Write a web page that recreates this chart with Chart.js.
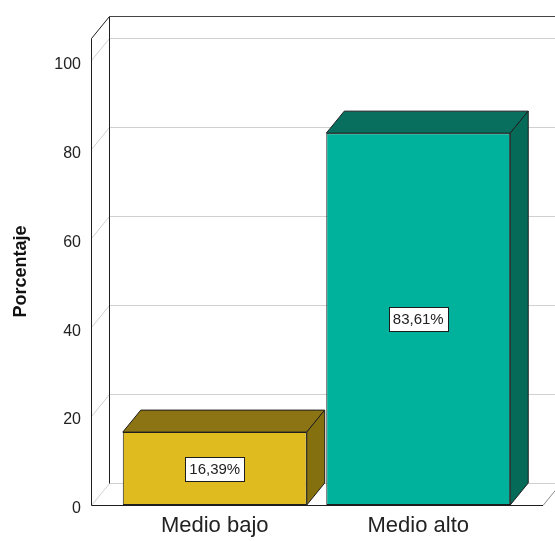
<!DOCTYPE html>
<html>
<head>
<meta charset="utf-8">
<script src="https://cdn.jsdelivr.net/npm/chart.js@4.4.1/dist/chart.umd.min.js"></script>
<style>
  html, body { margin: 0; padding: 0; background: #fff; }
  #wrap { width: 555px; height: 541px; }
</style>
</head>
<body>
<div id="wrap"><canvas id="chart" width="555" height="541"></canvas></div>
<script>
// Values
const categories = ['Medio bajo', 'Medio alto'];
const percentages = [16.39, 83.61];
const valueLabels = ['16,39%', '83,61%'];
const yTicks = [0, 20, 40, 60, 80, 100];
const yTitle = 'Porcentaje';

// Look of the SPSS style 3D chart
const FONT = "'Liberation Sans', Arial, sans-serif";
const frontColors = ['#e0bb1f', '#00b29b'];
const topColors = ['#8c7414', '#086e5e'];
const sideColors = ['#85700f', '#066a59'];
const EDGE = '#1e1e1e';
const GRID = '#d0d0d0';
const DX = 18, DY = 22; // depth of the box

function line(ctx, x1, y1, x2, y2, color) {
    ctx.beginPath();
    ctx.strokeStyle = color;
    ctx.lineWidth = 1;
    ctx.moveTo(x1, y1);
    ctx.lineTo(x2, y2);
    ctx.stroke();
}

function poly(ctx, pts, fill) {
    ctx.beginPath();
    ctx.moveTo(pts[0][0], pts[0][1]);
    pts.slice(1).forEach(p => ctx.lineTo(p[0], p[1]));
    ctx.closePath();
    ctx.fillStyle = fill;
    ctx.fill();
    ctx.strokeStyle = EDGE;
    ctx.lineWidth = 1;
    ctx.stroke();
}

// walls, floor and grid of the 3D box
const frame3d = {
    id: 'frame3d',
    beforeDatasetsDraw(chart) {
        const { ctx, chartArea, scales: { y } } = chart;
        const fx = chartArea.left - 22 + 0.5;
        const bx = fx + DX;
        const rx = chartArea.right + 23;
        const W = chart.width;
        const y0 = Math.round(y.getPixelForValue(0)) + 0.5;
        const top = Math.round(y.getPixelForValue(y.max)) + 0.5;
        ctx.save();
        yTicks.forEach(v => {
            const py = Math.round(y.getPixelForValue(v)) + 0.5;
            line(ctx, fx, py, bx, py - DY, GRID);
            line(ctx, bx, py - DY, W, py - DY, GRID);
        });
        line(ctx, rx, y0, rx + DX, y0 - DY, '#8a8a8a');
        line(ctx, fx, top, fx, y0, EDGE);
        line(ctx, bx, top - DY, bx, y0 - DY, EDGE);
        line(ctx, fx, top, bx, top - DY, EDGE);
        line(ctx, bx, top - DY, W, top - DY, '#444');
        ctx.restore();
    },
    afterDatasetsDraw(chart) {
        const { ctx, chartArea, scales: { y } } = chart;
        const meta = chart.getDatasetMeta(0);
        ctx.save();
        meta.data.forEach((bar, i) => {
            const { x, y: top, base, width } = bar.getProps(['x', 'y', 'base', 'width'], true);
            const l = x - width / 2, r = x + width / 2;
            poly(ctx, [[l, top], [l + DX, top - DY], [r + DX, top - DY], [r, top]], topColors[i]);
            poly(ctx, [[r, top], [r + DX, top - DY], [r + DX, base - DY], [r, base]], sideColors[i]);
        });
        const fx = chartArea.left - 22 + 0.5;
        const rx = chartArea.right + 23;
        const y0 = Math.round(y.getPixelForValue(0)) + 0.5;
        line(ctx, fx, y0, rx, y0, EDGE);

        // value boxes in the middle of each bar
        ctx.font = '15px ' + FONT;
        ctx.textAlign = 'center';
        ctx.textBaseline = 'middle';
        meta.data.forEach((bar, i) => {
            const { x, y: top, base } = bar.getProps(['x', 'y', 'base'], true);
            const cy = (top + base) / 2;
            const tw = ctx.measureText(valueLabels[i]).width;
            const bw = Math.round(tw + 8), bh = 24;
            const bxl = Math.round(x - bw / 2) + 0.5, byt = Math.round(cy - bh / 2) + 0.5;
            ctx.fillStyle = '#fff';
            ctx.fillRect(bxl, byt, bw, bh);
            ctx.strokeStyle = EDGE;
            ctx.lineWidth = 1;
            ctx.strokeRect(bxl, byt, bw, bh);
            ctx.fillStyle = '#222';
            ctx.fillText(valueLabels[i], x, cy + 1);
        });
        ctx.restore();
    }
};

function noEdgePadding(s) {
    s.paddingTop = 0;
    s.paddingBottom = 0;
    s.paddingLeft = 0;
    s.paddingRight = 0;
}

const chart = new Chart(document.getElementById('chart'), {
    type: 'bar',
    data: {
        labels: categories,
        datasets: [{
            data: percentages,
            backgroundColor: frontColors,
            borderColor: EDGE,
            borderWidth: 1,
            borderSkipped: false,
            barPercentage: 0.904,
            categoryPercentage: 1
        }]
    },
    options: {
        responsive: false,
        animation: false,
        devicePixelRatio: 1,
        layout: { padding: { top: 38, right: 35, left: 0, bottom: 0 } },
        plugins: {
            legend: { display: false },
            tooltip: { enabled: false }
        },
        scales: {
            x: {
                offset: true,
                grid: { display: false, drawTicks: false },
                border: { display: false },
                ticks: { color: '#222', padding: 8, font: { family: FONT, size: 22 } },
                afterFit: s => { s.height = 36; noEdgePadding(s); }
            },
            y: {
                min: 0,
                max: 105,
                afterBuildTicks: s => { s.ticks = yTicks.map(v => ({ value: v })); },
                grid: { display: false, drawTicks: false },
                border: { display: false },
                ticks: { color: '#222', padding: 32, labelOffset: 4, font: { family: FONT, size: 16 } },
                title: {
                    display: true,
                    text: yTitle,
                    color: '#111',
                    padding: { top: 10, bottom: 0 },
                    font: { family: FONT, size: 18, weight: 'bold' }
                },
                afterFit: s => { s.width = 113; noEdgePadding(s); }
            }
        }
    },
    plugins: [frame3d]
});
</script>
</body>
</html>
